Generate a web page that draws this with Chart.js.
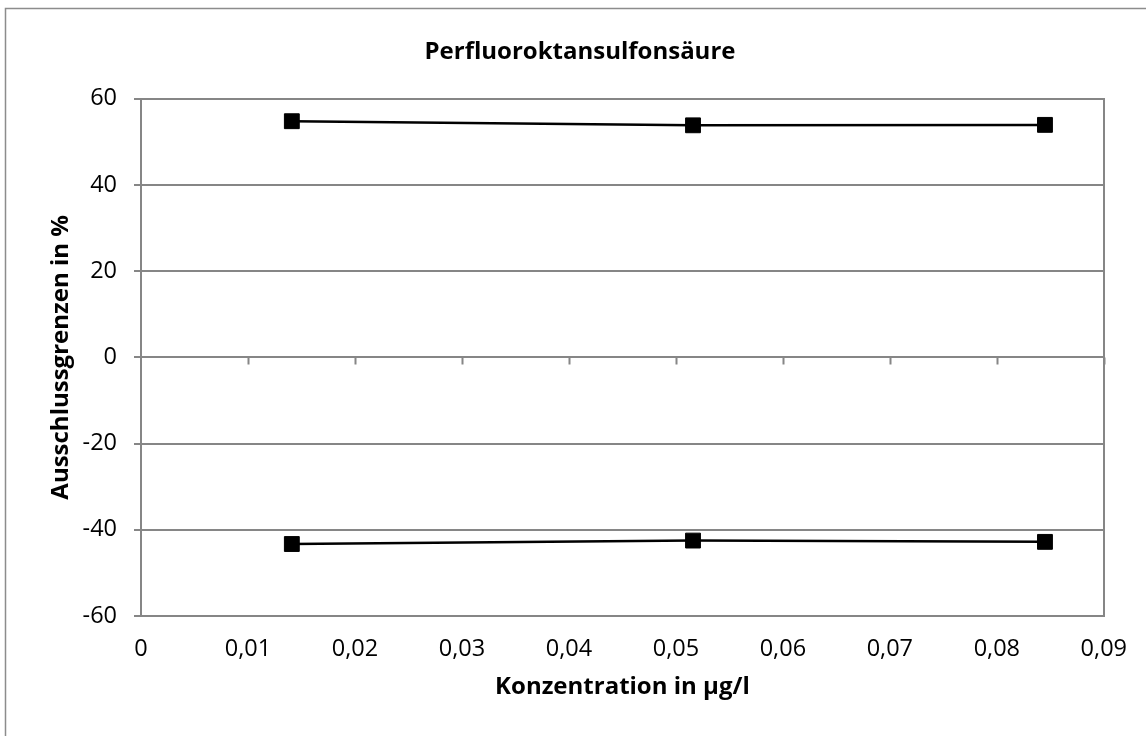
<!DOCTYPE html>
<html>
<head>
<meta charset="utf-8">
<script src="https://cdn.jsdelivr.net/npm/chart.js@4"></script>
<style>
  html, body { margin: 0; padding: 0; background: #fff; }
  #wrap { width: 1146px; height: 736px; position: relative; }
</style>
</head>
<body>
<div id="wrap"><canvas id="chart"></canvas></div>
<script>
// data
var concentrations = [0.0141, 0.0516, 0.0845];
var upperLimits = [54.8, 53.85, 53.95];
var lowerLimits = [-43.3, -42.5, -42.8];
var xTicks = [0, 0.01, 0.02, 0.03, 0.04, 0.05, 0.06, 0.07, 0.08, 0.09];
var yTicks = [-60, -40, -20, 0, 20, 40, 60];

var gray = '#868686';
var font = "'Open Sans', 'Noto Sans', sans-serif";

function toPoints(values) {
    return concentrations.map((c, i) => ({ x: c, y: values[i] }));
}

// outer border (left/top) and x tick marks on the zero line
var framePlugin = {
    id: 'frame',
    beforeDraw: function (chart) {
        var c = chart.ctx;
        c.save();
        c.fillStyle = '#fff';
        c.fillRect(0, 0, chart.width, chart.height);
        c.strokeStyle = '#8c8c8c';
        c.lineWidth = 1.5;
        c.beginPath();
        c.moveTo(5.5, chart.height);
        c.lineTo(5.5, 8.5);
        c.lineTo(chart.width, 8.5);
        c.stroke();
        c.restore();
    },
    beforeDatasetsDraw: function (chart) {
        var c = chart.ctx;
        var x = chart.scales.x;
        var y0 = chart.scales.y.getPixelForValue(0);
        c.save();
        c.strokeStyle = gray;
        c.lineWidth = 2;
        c.beginPath();
        xTicks.forEach(function (t) {
            if (t === 0) return;
            var px = Math.round(x.getPixelForValue(t)) + 0.5;
            c.moveTo(px, y0);
            c.lineTo(px, y0 + 7);
        });
        c.stroke();
        c.restore();
    }
};

new Chart(document.getElementById('chart'), {
    type: 'scatter',
    data: {
        datasets: [{
            label: 'Obere Ausschlussgrenze',
            data: toPoints(upperLimits),
            showLine: true,
            borderColor: '#000',
            backgroundColor: '#000',
            borderWidth: 2.5,
            pointStyle: 'rect',
            pointRadius: 10.5,
            pointBorderWidth: 1,
        }, {
            label: 'Untere Ausschlussgrenze',
            data: toPoints(lowerLimits),
            showLine: true,
            borderColor: '#000',
            backgroundColor: '#000',
            borderWidth: 2.5,
            pointStyle: 'rect',
            pointRadius: 10.5,
            pointBorderWidth: 1,
        }],
    },
    options: {
        responsive: true,
        maintainAspectRatio: false,
        animation: false,
        layout: {
            padding: { left: 14, right: 0, top: 0, bottom: 0 },
        },
        plugins: {
            legend: { display: false },
            tooltip: { enabled: false },
            title: {
                display: true,
                text: 'Perfluoroktansulfonsäure',
                color: '#000',
                font: { family: font, size: 24, weight: 'bold' },
                padding: { top: 38, bottom: 32 },
            },
        },
        scales: {
            x: {
                type: 'linear',
                min: 0,
                max: 0.09,
                afterBuildTicks: function (scale) {
                    scale.ticks = xTicks.map(v => ({ value: v }));
                },
                afterFit: function (scale) {
                    scale.height = 120;
                },
                grid: { display: false, drawTicks: false },
                border: { display: true, color: gray, width: 2 },
                ticks: {
                    color: '#000',
                    padding: 19,
                    font: { family: font, size: 23.5 },
                    callback: function (v) {
                        return String(v).replace('.', ',');
                    },
                },
                title: {
                    display: true,
                    text: 'Konzentration in µg/l',
                    color: '#000',
                    font: { family: font, size: 24, weight: 'bold' },
                    padding: { top: 0, bottom: 34 },
                },
            },
            y: {
                min: -60,
                max: 60,
                afterBuildTicks: function (scale) {
                    scale.ticks = yTicks.map(v => ({ value: v }));
                },
                afterFit: function (scale) {
                    scale.width = 127;
                },
                grid: {
                    color: gray,
                    lineWidth: 2,
                    tickLength: 7,
                },
                border: { display: true, color: gray, width: 2 },
                ticks: {
                    color: '#000',
                    padding: 17,
                    font: { family: font, size: 23.5 },
                },
                title: {
                    display: true,
                    text: 'Ausschlussgrenzen in %',
                    color: '#000',
                    font: { family: font, size: 24, weight: 'bold' },
                    padding: { top: 33, bottom: 0 },
                },
            },
            // right frame of the plot area
            y2: {
                position: 'right',
                min: -60,
                max: 60,
                afterFit: function (scale) {
                    scale.width = 42;
                },
                grid: { drawOnChartArea: false, drawTicks: false },
                border: { display: true, color: gray, width: 2 },
                ticks: { display: false },
            },
        },
    },
    plugins: [framePlugin],
});
</script>
</body>
</html>
